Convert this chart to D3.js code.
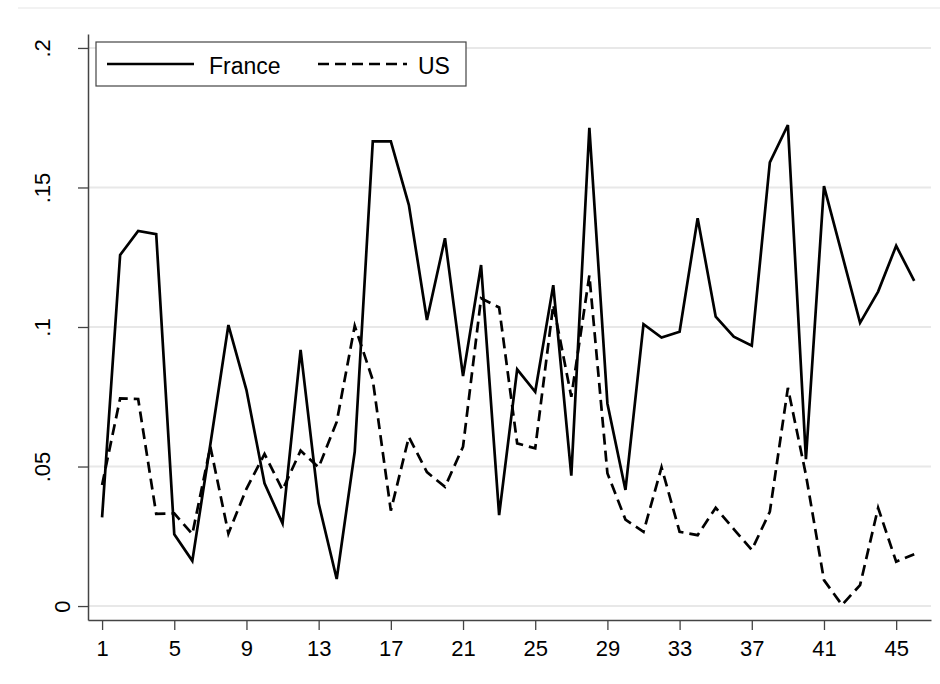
<!DOCTYPE html>
<html>
<head>
<meta charset="utf-8">
<script src="https://cdn.jsdelivr.net/npm/d3@7"></script>
<style>
  html, body { margin: 0; padding: 0; background: #fff; }
  svg { display: block; }
  text { font-family: "Liberation Sans", Arial, sans-serif; fill: #000; }
</style>
</head>
<body>
<svg id="chart" width="940" height="684"></svg>
<script>
// Period index on the horizontal axis
const periods = d3.range(1, 47);

// Series values, one per period
const france = [0.0318, 0.1258, 0.1344, 0.1333, 0.0257, 0.0162, 0.058, 0.1007, 0.0774, 0.044,
  0.0296, 0.0918, 0.0368, 0.0097, 0.0553, 0.1665, 0.1665, 0.1437, 0.1025, 0.1318,
  0.0824, 0.1222, 0.0326, 0.0848, 0.0768, 0.115, 0.0467, 0.1714, 0.0726, 0.0416,
  0.101, 0.0962, 0.0983, 0.139, 0.1037, 0.0965, 0.0933, 0.159, 0.1724, 0.0526,
  0.1505, 0.126, 0.1015, 0.1127, 0.1291, 0.1165];
const us = [0.0434, 0.0744, 0.0742, 0.033, 0.0332, 0.0258, 0.0571, 0.026, 0.042, 0.0545,
  0.0416, 0.0557, 0.0497, 0.066, 0.1004, 0.081, 0.0342, 0.0606, 0.048, 0.0427,
  0.0571, 0.1103, 0.107, 0.0583, 0.0565, 0.108, 0.075, 0.1185, 0.0476, 0.031,
  0.0266, 0.0497, 0.0266, 0.0254, 0.0352, 0.0276, 0.0201, 0.0338, 0.0782, 0.047,
  0.0093, 0.0004, 0.0075, 0.0352, 0.0159, 0.0186];

// Axis ticks and their labels
const xTicks = [1, 5, 9, 13, 17, 21, 25, 29, 33, 37, 41, 45];
const yTicks = [0, 0.05, 0.1, 0.15, 0.2];
const yTickLabels = ["0", ".05", ".1", ".15", ".2"];

const seriesNames = ["France", "US"];

const svg = d3.select("#chart");

const x = d3.scaleLinear().domain([0.22, 46.93]).range([88, 931]);
const y = d3.scaleLinear().domain([-0.005, 0.205]).range([620, 34]);

// faint outer frame line
svg.append("line")
  .attr("x1", 18).attr("x2", 940).attr("y1", 8).attr("y2", 8)
  .attr("stroke", "#eeeeee").attr("stroke-width", 1.5);

// horizontal gridlines
svg.append("g").selectAll("line").data(yTicks).join("line")
  .attr("x1", 88).attr("x2", 931)
  .attr("y1", d => y(d)).attr("y2", d => y(d))
  .attr("stroke", "#e8e8e8").attr("stroke-width", 2);

// y axis, labels turned vertical; the zero label sits closer to the axis
const yAxis = d3.axisLeft(y).tickValues(yTicks)
  .tickFormat((d, i) => yTickLabels[i]).tickSize(10).tickPadding(8).tickSizeOuter(0);
const gy = svg.append("g").attr("transform", "translate(88,0)").call(yAxis);
gy.select(".domain").attr("stroke", "#444").attr("stroke-width", 1.5);
gy.selectAll(".tick line").attr("stroke", "#444").attr("stroke-width", 1.3);
gy.selectAll(".tick text")
  .attr("font-size", 22)
  .attr("font-family", "Liberation Sans, Arial, sans-serif")
  .attr("fill", "#000")
  .attr("text-anchor", "middle")
  .attr("dy", 0)
  .attr("x", 0)
  .attr("transform", d => `translate(${d === 0 ? -18 : -38},0) rotate(-90)`);

// x axis
const xAxis = d3.axisBottom(x).tickValues(xTicks).tickSize(10).tickPadding(10).tickSizeOuter(0);
const gx = svg.append("g").attr("transform", "translate(0,620)").call(xAxis);
gx.select(".domain").attr("stroke", "#444").attr("stroke-width", 1.5);
gx.selectAll(".tick line").attr("stroke", "#444").attr("stroke-width", 1.3);
gx.selectAll(".tick text")
  .attr("font-size", 22)
  .attr("font-family", "Liberation Sans, Arial, sans-serif")
  .attr("fill", "#000");

// series lines
const line = d3.line().x((d, i) => x(periods[i])).y(d => y(d));

svg.append("path").datum(us)
  .attr("fill", "none").attr("stroke", "#000").attr("stroke-width", 2.7)
  .attr("stroke-dasharray", "11,6").attr("stroke-linejoin", "miter")
  .attr("d", line);

svg.append("path").datum(france)
  .attr("fill", "none").attr("stroke", "#000").attr("stroke-width", 2.7)
  .attr("stroke-linejoin", "miter")
  .attr("d", line);

// legend
const lg = svg.append("g");
lg.append("rect")
  .attr("x", 96).attr("y", 42).attr("width", 370).attr("height", 44)
  .attr("fill", "#fff").attr("stroke", "#444").attr("stroke-width", 1.2);
lg.append("line").attr("x1", 107).attr("x2", 194).attr("y1", 64).attr("y2", 64)
  .attr("stroke", "#000").attr("stroke-width", 2.7);
lg.append("text").attr("x", 209).attr("y", 74).attr("font-size", 23).text(seriesNames[0]);
lg.append("line").attr("x1", 318).attr("x2", 407).attr("y1", 64).attr("y2", 64)
  .attr("stroke", "#000").attr("stroke-width", 2.7).attr("stroke-dasharray", "11,6");
lg.append("text").attr("x", 418).attr("y", 74).attr("font-size", 23).text(seriesNames[1]);
</script>
</body>
</html>
